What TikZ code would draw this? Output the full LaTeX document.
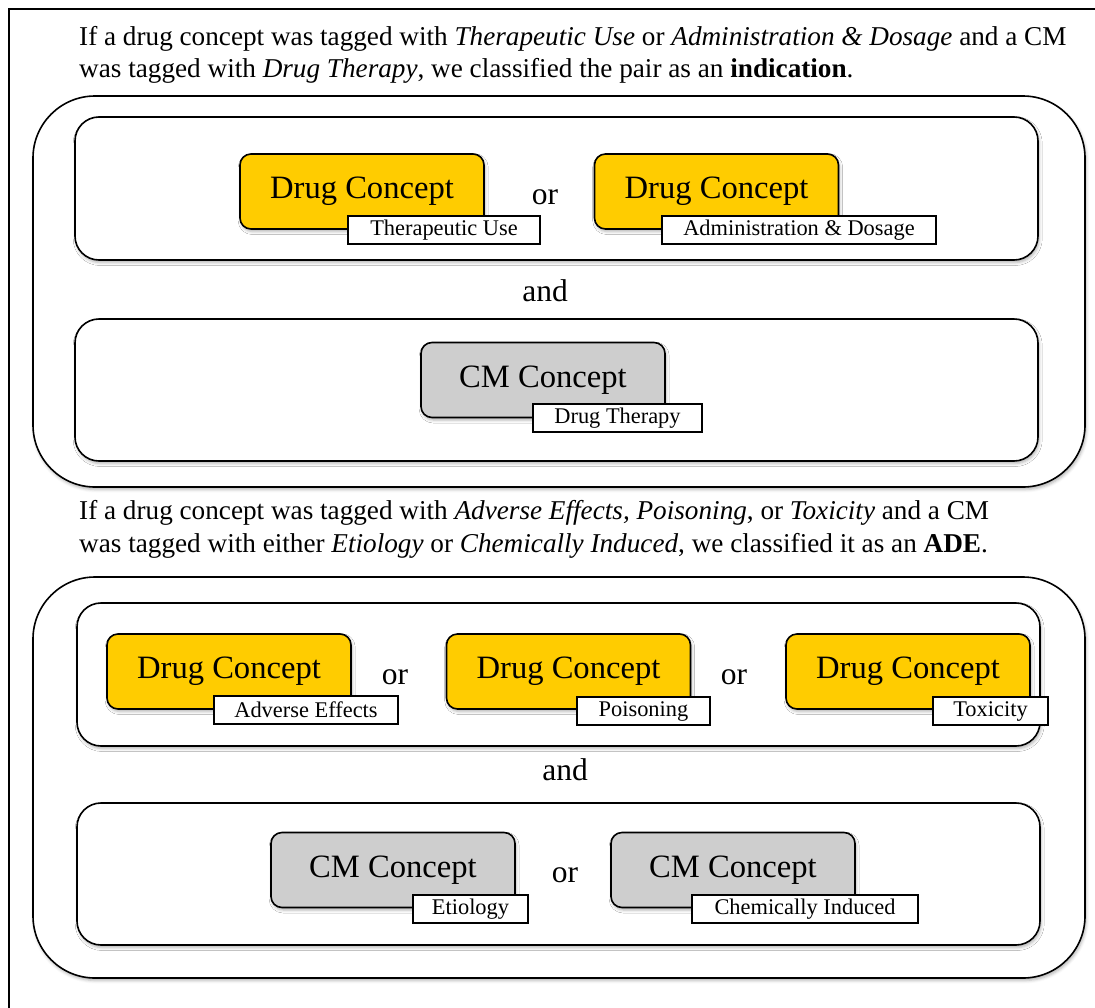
\documentclass[tikz,border=0pt]{standalone}
\usepackage{fontspec}
\setmainfont{Liberation Serif}
\usetikzlibrary{shadows.blur}

\definecolor{drugfill}{RGB}{255,204,0}
\definecolor{cmfill}{RGB}{206,206,206}

\tikzset{
  softshadow/.style={blur shadow={shadow xshift=1.2pt, shadow yshift=-2.5pt,
      shadow blur radius=3pt, shadow opacity=30}},
  panel/.style={draw, line width=1.6pt, rounded corners=62pt, softshadow, fill=white},
  group/.style={draw, line width=1.6pt, rounded corners=24pt, softshadow, fill=white},
  concept/.style={draw, line width=1.6pt, rounded corners=11pt, softshadow,
      minimum width=244pt, minimum height=75pt, inner sep=0pt,
      font=\fontsize{32.6}{36}\selectfont},
  drugbox/.style={concept, fill=drugfill},
  cmbox/.style={concept, fill=cmfill},
  tagbox/.style={draw, line width=1.6pt, fill=white, minimum height=28pt,
      inner sep=0pt, font=\fontsize{22.4}{24}\selectfont},
  conj/.style={inner sep=0pt, font=\fontsize{31.5}{34}\selectfont},
  prose/.style={anchor=base west, inner sep=0pt, font=\fontsize{27.2}{32}\selectfont},
}

\begin{document}
\begin{tikzpicture}[x=1pt, y=-1pt]
\useasboundingbox (0,0) rectangle (1095,1007);

% page frame
\draw[line width=1.4pt] (9,1030) -- (9,9) -- (1120,9);

% ---------- indication rule ----------
\node[prose] (ta1) at (79,45.5) {If a drug concept was tagged with \textit{Therapeutic Use} or \textit{Administration \& Dosage} and a CM};
\node[prose] (ta2) at (79,77.5) {was tagged with \textit{Drug Therapy}, we classified the pair as an \textbf{indication}.};

\draw[panel] (33,96) rectangle (1085,487);
\draw[group] (75,117) rectangle (1038,260);
\draw[group] (75,319) rectangle (1038,461);

\node[drugbox] (dc1) at (362,191.5) {Drug Concept};
\node[tagbox, minimum width=192pt] (tg1) at (444,230) {Therapeutic Use};
\node[conj] (or1) at (545,197) {or};
\node[drugbox] (dc2) at (716.5,191.5) {Drug Concept};
\node[tagbox, minimum width=274pt] (tg2) at (799,230) {Administration \& Dosage};

\node[conj] (and1) at (545,291) {and};

\node[cmbox] (cm1) at (543,380) {CM Concept};
\node[tagbox, minimum width=169pt] (tg3) at (617.5,418) {Drug Therapy};

% ---------- ADE rule ----------
\node[prose] (tb1) at (79,519) {If a drug concept was tagged with \textit{Adverse Effects, Poisoning}, or \textit{Toxicity} and a CM};
\node[prose] (tb2) at (79,552) {was tagged with either \textit{Etiology} or \textit{Chemically Induced}, we classified it as an \textbf{ADE}.};

\draw[panel] (33,577) rectangle (1085,978);
\draw[group] (77,603) rectangle (1040,746);
\draw[group] (77,803) rectangle (1040,945);

\node[drugbox] (dc3) at (229,671.5) {Drug Concept};
\node[tagbox, minimum width=184pt] (tg4) at (306,710) {Adverse Effects};
\node[conj] (or2) at (395,677) {or};
\node[drugbox] (dc4) at (568.5,671.5) {Drug Concept};
\node[tagbox, minimum width=133pt] (tg5) at (643.5,711) {Poisoning};
\node[conj] (or3) at (734,677) {or};
\node[drugbox] (dc5) at (908,671.5) {Drug Concept};
\node[tagbox, minimum width=115pt] (tg6) at (990.5,711) {Toxicity};

\node[conj] (and2) at (565,770) {and};

\node[cmbox] (cm2) at (393,870) {CM Concept};
\node[tagbox, minimum width=115pt] (tg7) at (470.5,909) {Etiology};
\node[conj] (or4) at (565,875) {or};
\node[cmbox] (cm3) at (733,870) {CM Concept};
\node[tagbox, minimum width=226pt] (tg8) at (805,909) {Chemically Induced};
\end{tikzpicture}
\end{document}
